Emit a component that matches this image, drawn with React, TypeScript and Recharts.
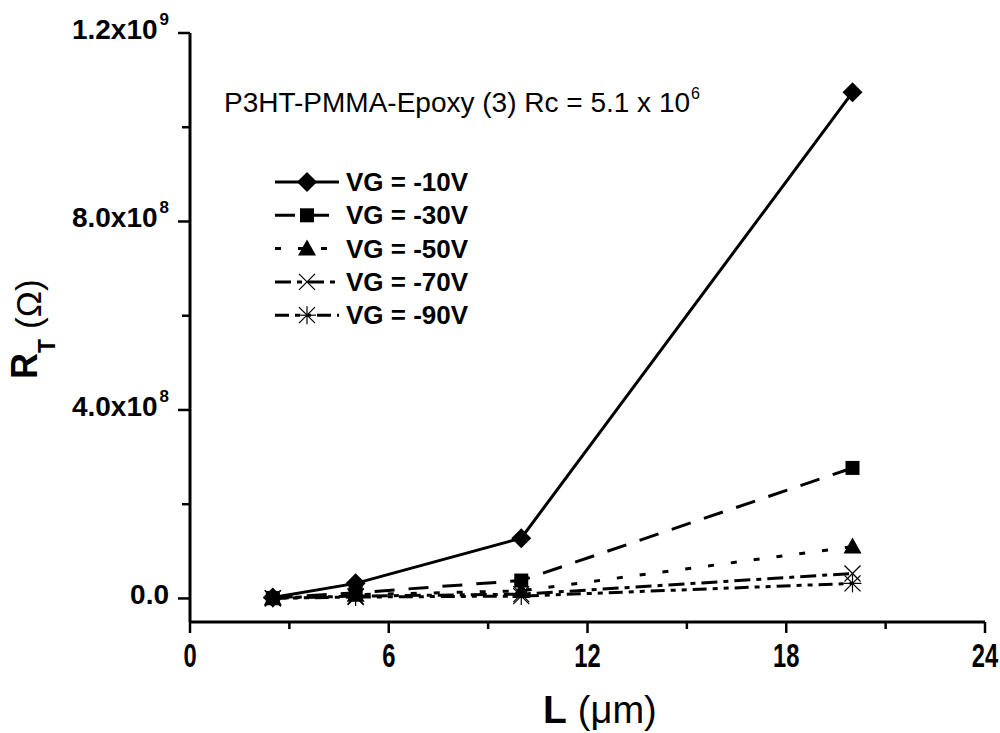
import React from "react";
import { LineChart, Line, XAxis, YAxis, Customized } from "recharts";

// channel length (um) and total resistance (ohm) per gate voltage
const lengths = [2.5, 5, 10, 20];
const vg10 = [2e6, 3.2e7, 1.28e8, 1.074e9];
const vg30 = [1e6, 1.2e7, 3.8e7, 2.77e8];
const vg50 = [5e5, 8e6, 1.6e7, 1.1e8];
const vg70 = [3e5, 5e6, 9e6, 5.3e7];
const vg90 = [2e5, 3e6, 5e6, 3.2e7];

const seriesNames = ["VG = -10V", "VG = -30V", "VG = -50V", "VG = -70V", "VG = -90V"];
const xTicks = [0, 3, 6, 9, 12, 15, 18, 21, 24];
const yTicks = [0, 2e8, 4e8, 6e8, 8e8, 1e9, 1.2e9];

const data = lengths.map((L, i) => ({
  L,
  v10: vg10[i],
  v30: vg30[i],
  v50: vg50[i],
  v70: vg70[i],
  v90: vg90[i],
}));

const sans = "'Liberation Sans', Arial, sans-serif";

type Shape = "diamond" | "square" | "triangle" | "cross" | "star";

function Marker({ x, y, shape }: { x: number; y: number; shape: Shape }) {
  if (shape === "diamond")
    return <polygon points={`${x},${y - 10} ${x + 10},${y} ${x},${y + 10} ${x - 10},${y}`} fill="#000" />;
  if (shape === "square") return <rect x={x - 7} y={y - 7} width={14} height={14} fill="#000" />;
  if (shape === "triangle")
    return <polygon points={`${x},${y - 9} ${x + 9},${y + 7} ${x - 9},${y + 7}`} fill="#000" />;
  if (shape === "cross")
    return (
      <g stroke="#000" strokeWidth={1.2}>
        <line x1={x - 8} y1={y - 8} x2={x + 8} y2={y + 8} />
        <line x1={x - 8} y1={y + 8} x2={x + 8} y2={y - 8} />
      </g>
    );
  return (
    <g stroke="#000" strokeWidth={1.2}>
      <line x1={x - 8} y1={y - 8} x2={x + 8} y2={y + 8} />
      <line x1={x - 8} y1={y + 8} x2={x + 8} y2={y - 8} />
      <line x1={x - 9} y1={y} x2={x + 9} y2={y} />
      <line x1={x} y1={y - 9} x2={x} y2={y + 9} />
    </g>
  );
}

const series: { key: string; shape: Shape; dash?: string }[] = [
  { key: "v10", shape: "diamond" },
  { key: "v30", shape: "square", dash: "20 14" },
  { key: "v50", shape: "triangle", dash: "6 17" },
  { key: "v70", shape: "cross", dash: "16 6 5 6" },
  { key: "v90", shape: "star", dash: "14 6 5 6 5 6" },
];

const makeDot = (shape: Shape) => (p: any) =>
  <Marker key={`${shape}-${p.index}`} x={p.cx} y={p.cy} shape={shape} />;

function YTick({ x, y, payload }: any) {
  const v = payload.value as number;
  const major = v % 4e8 === 0;
  let label: React.ReactNode = null;
  if (major) {
    if (v === 0) {
      label = "0.0";
    } else {
      const exp = Math.floor(Math.log10(v));
      const mant = (v / Math.pow(10, exp)).toFixed(1);
      label = (
        <>
          <tspan>{mant}x10</tspan>
          <tspan dx={2} dy={-14} fontSize={17}>{exp}</tspan>
        </>
      );
    }
  }
  return (
    <g>
      <line x1={x} y1={y} x2={x - (major ? 12 : 8)} y2={y} stroke="#000" strokeWidth={2.5} />
      {major && (
        <text x={x - 21} y={y + 6} textAnchor="end" fontFamily={sans} fontWeight="bold" fontSize={28} fill="#000">
          {label}
        </text>
      )}
    </g>
  );
}

function XTick({ x, y, payload }: any) {
  const v = payload.value as number;
  const major = v % 6 === 0;
  return (
    <g>
      <line x1={x} y1={y} x2={x} y2={y + (major ? 11 : 7)} stroke="#000" strokeWidth={2.5} />
      {major && (
        <text
          transform={`translate(${x},${y + 45}) scale(0.72,1)`}
          textAnchor="middle"
          fontFamily={sans}
          fontWeight="bold"
          fontSize={33}
          fill="#000"
        >
          {v}
        </text>
      )}
    </g>
  );
}

function LegendBox() {
  return (
    <g transform="translate(275,182)">
      {series.map((s, i) => {
        const y = i * 33.3;
        return (
          <g key={s.key}>
            <line x1={0} y1={y} x2={64} y2={y} stroke="#000" strokeWidth={3} strokeDasharray={s.dash} />
            <Marker x={32} y={y} shape={s.shape} />
            <text x={71} y={y + 9} fontFamily={sans} fontWeight="bold" fontSize={26} fill="#000">
              {seriesNames[i]}
            </text>
          </g>
        );
      })}
    </g>
  );
}

function Annotation() {
  return (
    <g>
      <text x={224} y={112} fontFamily={sans} fontSize={28} fill="#000">
        <tspan>P3HT-PMMA-Epoxy (3) Rc = 5.1 x 10</tspan>
        <tspan dx={1} dy={-13} fontSize={16}>6</tspan>
      </text>
      <text x={543} y={723} fill="#000">
        <tspan fontFamily={sans} fontWeight="bold" fontSize={39}>L</tspan>
        <tspan fontFamily={sans} fontSize={38} dx={11}>(μm)</tspan>
      </text>
      <text transform="translate(37,379) rotate(-90)" fill="#000">
        <tspan fontFamily={sans} fontWeight="bold" fontSize={36}>R</tspan>
        <tspan fontFamily={sans} fontWeight="bold" fontSize={23} dy={18}>T</tspan>
        <tspan fontFamily={sans} fontSize={35} dy={-14} dx={10}>(Ω)</tspan>
      </text>
    </g>
  );
}

export default function App() {
  return (
    <div style={{ position: "absolute", left: 0, top: 0, background: "#fff" }}>
      <LineChart width={1000} height={733} data={data} margin={{ top: 33, right: 15, bottom: 0, left: 0 }}>
        <XAxis
          dataKey="L"
          type="number"
          domain={[0, 24]}
          ticks={xTicks}
          interval={0}
          height={111}
          tickSize={0}
          tickMargin={0}
          tickLine={false}
          axisLine={{ stroke: "#000", strokeWidth: 3 }}
          tick={<XTick />}
        />
        <YAxis
          type="number"
          domain={[-5e7, 1.2e9]}
          allowDataOverflow
          ticks={yTicks}
          interval={0}
          width={190}
          tickSize={0}
          tickMargin={0}
          tickLine={false}
          axisLine={{ stroke: "#000", strokeWidth: 3 }}
          tick={<YTick />}
        />
        <Customized component={<LegendBox />} />
        <Customized component={<Annotation />} />
        {series.map((s, i) => (
          <Line
            key={s.key}
            dataKey={s.key}
            name={seriesNames[i]}
            stroke="#000"
            strokeWidth={3}
            strokeDasharray={s.dash}
            dot={makeDot(s.shape)}
            activeDot={false}
            isAnimationActive={false}
          />
        ))}
      </LineChart>
    </div>
  );
}
